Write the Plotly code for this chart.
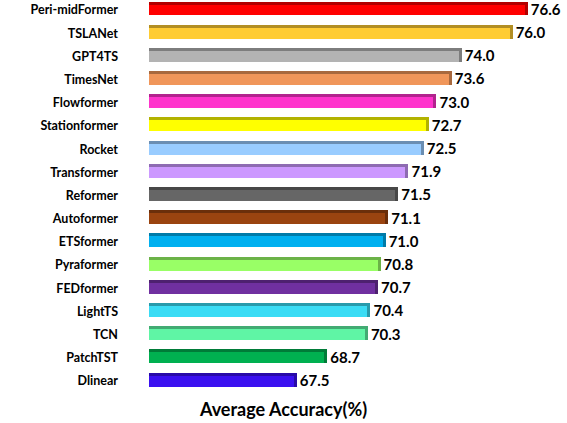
import plotly.graph_objects as go
import numpy as np

models = ["Peri-midFormer", "TSLANet", "GPT4TS", "TimesNet", "Flowformer", "Stationformer",
          "Rocket", "Transformer", "Reformer", "Autoformer", "ETSformer", "Pyraformer",
          "FEDformer", "LightTS", "TCN", "PatchTST", "Dlinear"]
accuracy = [76.6, 76.0, 74.0, 73.6, 73.0, 72.7, 72.5, 71.9, 71.5, 71.1, 71.0, 70.8,
            70.7, 70.4, 70.3, 68.7, 67.5]
colors = ["#FF0000", "#FFCC33", "#B3B3B3", "#F0965A", "#FF33CC", "#FFFF00", "#99CCFF",
          "#CC99FF", "#666666", "#9A4410", "#00B0F0", "#99FF66", "#7030A0", "#3ADCF5",
          "#5FF5A5", "#00B050", "#3A10F0"]
x_title = "Average Accuracy(%)"

def darken(h, f=0.7):
    h = h.lstrip("#")
    r, g, b = (int(h[i:i + 2], 16) for i in (0, 2, 4))
    return "#%02X%02X%02X" % (int(r * f), int(g * f), int(b * f))

n = len(models)
pos = np.arange(n)[::-1]  # top item highest
vals = np.array(accuracy)
xmin = 61.8
depth = 0.12
FONT = "Lato"

fig = go.Figure()
# back (3D side/top) bars
fig.add_trace(go.Bar(
    y=pos + 0.065, x=vals + depth - xmin, base=xmin, orientation="h", width=0.6,
    marker=dict(color=[darken(c) for c in colors], line=dict(width=0)),
    hoverinfo="skip", showlegend=False))
# front bars
fig.add_trace(go.Bar(
    y=pos, x=vals - xmin, base=xmin, orientation="h", width=0.47,
    marker=dict(color=colors, line=dict(width=0)),
    showlegend=False, name="Average Accuracy"))
# value labels
fig.add_trace(go.Scatter(
    y=pos - 0.05, x=vals + depth + 0.12, mode="text", text=[f"{v:.1f}" for v in accuracy],
    textposition="middle right",
    textfont=dict(family=FONT, size=15, color="black", weight="bold"),
    hoverinfo="skip", showlegend=False, cliponaxis=False))

fig.update_layout(
    width=567, height=423,
    margin=dict(l=149, r=27, t=0, b=28, autoexpand=False),
    paper_bgcolor="white", plot_bgcolor="white",
    barmode="overlay", bargap=0,
    font=dict(family=FONT, color="black"),
    title=dict(text=x_title, xref="container", yref="container", x=0.5, y=0.031,
               xanchor="center", yanchor="middle",
               font=dict(family=FONT, size=18, color="black", weight="bold")),
    xaxis=dict(range=[xmin, 77.2], showgrid=False, zeroline=False, showline=False,
               showticklabels=False, ticks="", automargin=False),
    yaxis=dict(range=[-0.60, 16.43], tickmode="array", tickvals=list(pos), ticktext=models,
               showgrid=False, zeroline=False, showline=False, ticks="", automargin=False,
               ticklabelstandoff=30,
               tickfont=dict(family=FONT, size=12.5, color="black", weight="bold")),
)

fig.write_html("out.html", config={"displayModeBar": False},
               post_script="document.body.style.margin='0';")
